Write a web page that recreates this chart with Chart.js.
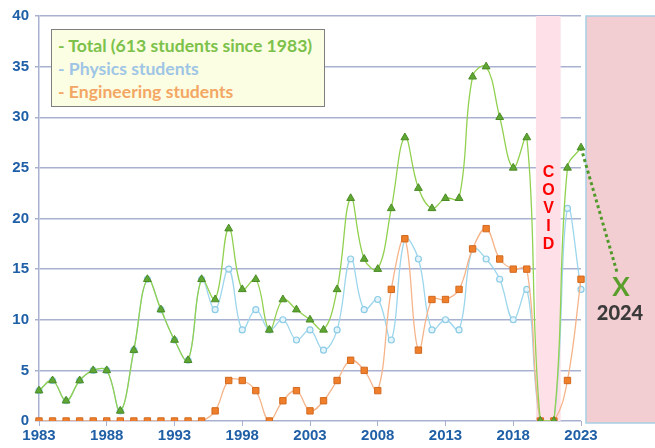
<!DOCTYPE html>
<html>
<head>
<meta charset="utf-8">
<script src="https://cdn.jsdelivr.net/npm/chart.js@4.4.0/dist/chart.umd.min.js"></script>
<style>
  body { margin: 0; background: #fff; }
  #wrap { position: relative; width: 655px; height: 448px; overflow: hidden; }
  #legendBox {
    position: absolute; left: 51px; top: 29px; width: 274px; height: 78px;
    box-sizing: border-box; border: 1.5px solid #7f7f7f; background: #fbfee2;
    font: bold 17.6px Lato, sans-serif; padding: 4px 0 0 6px; line-height: 23px;
  }
  #covid {
    position: absolute; left: 536px; width: 25px; top: 163px;
    font: bold 16px "Liberation Sans", Arial, sans-serif; color: #ff0000;
    text-align: center; line-height: 18px;
  }
  #projX {
    position: absolute; left: 601px; width: 40px; top: 270px; text-align: center;
    font: bold 26px Lato, sans-serif; color: #5a9e2c;
  }
  #projYear {
    position: absolute; left: 590px; width: 60px; top: 300px; text-align: center;
    font: 900 20px Lato, sans-serif; color: #3a3a3a;
  }
</style>
</head>
<body>
<div id="wrap">
  <canvas id="studentsChart" width="655" height="448"></canvas>
  <div id="legendBox">
    <div style="color:#7cc14a">- Total (613 students since 1983)</div>
    <div style="color:#9fc5e6">- Physics students</div>
    <div style="color:#f4a664">- Engineering students</div>
  </div>
  <div id="covid">C<br>O<br>V<br>I<br>D</div>
  <div id="projX">X</div>
  <div id="projYear">2024</div>
</div>
<script>
const years = ['1983','1984','1985','1986','1987','1988','1989','1990','1991','1992',
  '1993','1994','1995','1996','1997','1998','1999','2000','2001','2002',
  '2003','2004','2005','2006','2007','2008','2009','2010','2011','2012',
  '2013','2014','2015','2016','2017','2018','2019','2020','2021','2022','2023'];

const totalStudents = [3, 4, 2, 4, 5, 5, 1, 7, 14, 11, 8, 6, 14, 12, 19, 13, 14, 9, 12, 11,
  10, 9, 13, 22, 16, 15, 21, 28, 23, 21, 22, 22, 34, 35, 30, 25, 28, 0, 0, 25, 27];
const physicsStudents = [3, 4, 2, 4, 5, 5, 1, 7, 14, 11, 8, 6, 14, 11, 15, 9, 11, 9, 10, 8,
  9, 7, 9, 16, 11, 12, 8, 18, 16, 9, 10, 9, 17, 16, 14, 10, 13, 0, 0, 21, 13];
const engineeringStudents = [0, 0, 0, 0, 0, 0, 0, 0, 0, 0, 0, 0, 0, 1, 4, 4, 3, 0, 2, 3,
  1, 2, 4, 6, 5, 3, 13, 18, 7, 12, 12, 13, 17, 19, 16, 15, 15, 0, 0, 4, 14];

const yTicks = [0, 5, 10, 15, 20, 25, 30, 35, 40];
const covidYears = ['2020', '2021'];
const projectedValue = 13.5; // 2024 guess, marked with X

const tickBlue = '#1f5fa6';
const gridColor = '#a9b1d1';

// pink covid band + right shaded box + dotted projection line
const extrasPlugin = {
    id: 'extras',
    beforeDatasetsDraw(chart) {
        const { ctx, chartArea, scales } = chart;
        const x = scales.x;
        const step = x.getPixelForValue(1) - x.getPixelForValue(0);
        const i0 = years.indexOf(covidYears[0]);
        const i1 = years.indexOf(covidYears[1]);
        const left = x.getPixelForValue(i0) - step * 0.33;
        const right = x.getPixelForValue(i1) + step * 0.5;
        ctx.save();
        ctx.fillStyle = '#fde0e8';
        ctx.fillRect(left, chartArea.top, right - left, chartArea.bottom - chartArea.top);
        ctx.restore();
    },
    afterDatasetsDraw(chart) {
        const { ctx, chartArea, scales } = chart;
        const x = scales.x, y = scales.y;
        ctx.save();
        // future box
        ctx.fillStyle = '#f2cdd2';
        ctx.strokeStyle = '#a6cfe5';
        ctx.lineWidth = 1.5;
        ctx.fillRect(chartArea.right + 5, chartArea.top, 100, chartArea.bottom - chartArea.top + 2);
        ctx.strokeRect(chartArea.right + 5, chartArea.top, 100, chartArea.bottom - chartArea.top + 2);
        // dotted projection
        const last = years.length - 1;
        ctx.strokeStyle = '#4f9a2a';
        ctx.lineWidth = 3;
        ctx.setLineDash([3, 3]);
        ctx.beginPath();
        ctx.moveTo(x.getPixelForValue(last), y.getPixelForValue(totalStudents[last]));
        ctx.lineTo(x.getPixelForValue(last + 2.7), y.getPixelForValue(projectedValue + 1));
        ctx.stroke();
        ctx.restore();
    }
};

const ctx = document.getElementById('studentsChart').getContext('2d');
new Chart(ctx, {
    type: 'line',
    data: {
        labels: years,
        datasets: [
            {
                label: 'Total',
                data: totalStudents,
                borderColor: '#92d050',
                borderWidth: 1.3,
                pointStyle: 'triangle',
                pointRadius: 4.5,
                pointBackgroundColor: '#5fa732',
                pointBorderColor: '#4b8a26',
                pointBorderWidth: 1,
                tension: 0.4,
            },
            {
                label: 'Engineering students',
                data: engineeringStudents,
                borderColor: '#f5b48a',
                borderWidth: 1.3,
                pointStyle: 'rect',
                pointRadius: 4.5,
                pointBackgroundColor: '#f07f2c',
                pointBorderColor: '#d2691e',
                pointBorderWidth: 1,
                tension: 0.4,
            },
            {
                label: 'Physics students',
                data: physicsStudents,
                borderColor: '#9dd6ec',
                borderWidth: 1.3,
                pointStyle: 'circle',
                pointRadius: 3,
                pointBackgroundColor: '#e4f4fb',
                pointBorderColor: '#8ccbe6',
                pointBorderWidth: 1.2,
                tension: 0.4,
            },
        ],
    },
    options: {
        responsive: false,
        animation: false,
        layout: { padding: { top: 16, right: 74, left: 0, bottom: 0 } },
        plugins: {
            legend: { display: false },
            tooltip: { enabled: false },
        },
        scales: {
            x: {
                offset: false,
                afterFit: (scale) => { scale.height = 27; },
                border: { display: false },
                grid: {
                    drawOnChartArea: false,
                    tickLength: 5,
                    color: (c) => (c.index % 5 === 0 ? gridColor : 'rgba(0,0,0,0)'),
                },
                ticks: {
                    autoSkip: false,
                    maxRotation: 0,
                    padding: 1,
                    color: tickBlue,
                    font: { family: 'Liberation Sans', weight: 'bold', size: 15 },
                    callback: (val, i) => (i % 5 === 0 ? years[i] : ''),
                },
            },
            y: {
                min: 0,
                max: 40,
                afterFit: (scale) => { scale.width = 39; },
                afterBuildTicks: (scale) => { scale.ticks = yTicks.map((v) => ({ value: v })); },
                border: { display: true, color: gridColor, width: 1.5 },
                grid: { color: gridColor, lineWidth: 1.5, tickLength: 4 },
                ticks: {
                    padding: 6,
                    color: tickBlue,
                    font: { family: 'Liberation Sans', weight: 'bold', size: 15 },
                },
            },
        },
    },
    plugins: [extrasPlugin],
});
</script>
</body>
</html>
